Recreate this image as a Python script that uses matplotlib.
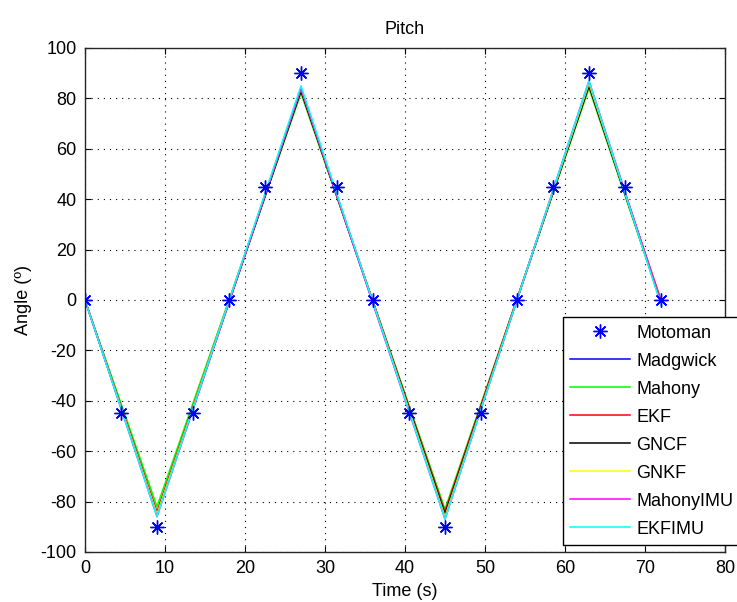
import matplotlib
matplotlib.use('Agg')
import matplotlib.pyplot as plt

# Motoman reference (marker points)
ref_t = [0, 4.5, 9, 13.5, 18, 22.5, 27, 31.5, 36, 40.5, 45, 49.5, 54, 58.5, 63, 67.5, 72]
ref_angle = [0, -45, -90, -45, 0, 45, 90, 45, 0, -45, -90, -45, 0, 45, 90, 45, 0]

# estimated filter outputs (turning points)
est_t = [0, 9, 27, 45, 63, 72]
madgwick = [0, -85, 84, -86, 86, -1]
mahony = [0, -82, 82, -83, 84, -1]
ekf = [0, -84, 83, -84, 85, 0]
gncf = [0, -85, 83, -85, 85, -1]
gnkf = [0, -85, 84, -86, 86, -1]
mahony_imu = [0, -86, 84, -87, 87, -1]
ekf_imu = [0, -86, 85, -87, 87, -2]

names = ['Madgwick', 'Mahony', 'EKF', 'GNCF', 'GNKF', 'MahonyIMU', 'EKFIMU']
series = [madgwick, mahony, ekf, gncf, gnkf, mahony_imu, ekf_imu]
colors = ['#0000ff', '#00ff00', '#ff0000', '#000000', '#ffff00', '#ff00ff', '#00ffff']

plt.rcParams['font.family'] = ['Liberation Sans', 'DejaVu Sans']
plt.rcParams['axes.unicode_minus'] = False
fs = 13

fig = plt.figure(figsize=(7.37, 6.02), dpi=100)
ax = fig.add_axes([0.1153, 0.0831, 0.8684, 0.8372])

ax.plot(ref_t, ref_angle, linestyle='none', marker=(8, 2, 0), markersize=10,
        markeredgewidth=1.0, color='#0000ff', label='Motoman', zorder=5)
for vals, name, c in zip(series, names, colors):
    ax.plot(est_t, vals, color=c, lw=1.1, label=name)

ax.set_xlim(0, 80)
ax.set_ylim(-100, 100)
ax.set_xticks(range(0, 81, 10))
ax.set_yticks(range(-100, 101, 20))
ax.grid(True, linestyle=(0, (1, 4.5)), color='black', linewidth=0.8)
ax.tick_params(direction='in', top=True, right=True, length=4, labelsize=fs)
ax.tick_params(axis='x', pad=6)
ax.tick_params(axis='y', pad=6)
for s in ax.spines.values():
    s.set_linewidth(1.0)
    s.set_color('#262626')

ax.set_title('Pitch', fontsize=fs, pad=10)
ax.set_xlabel('Time (s)', fontsize=fs, labelpad=4)
ax.set_ylabel('Angle (º)', fontsize=fs, labelpad=6)

leg = ax.legend(loc='lower left', bbox_to_anchor=(0.747, 0.014), fontsize=fs,
                handlelength=3.3, frameon=True, fancybox=False, framealpha=1,
                borderaxespad=0, borderpad=0.4, labelspacing=0.61,
                handletextpad=0.35)
leg.get_frame().set_edgecolor('black')
leg.get_frame().set_linewidth(1.0)

fig.savefig('out.png', dpi=100)
